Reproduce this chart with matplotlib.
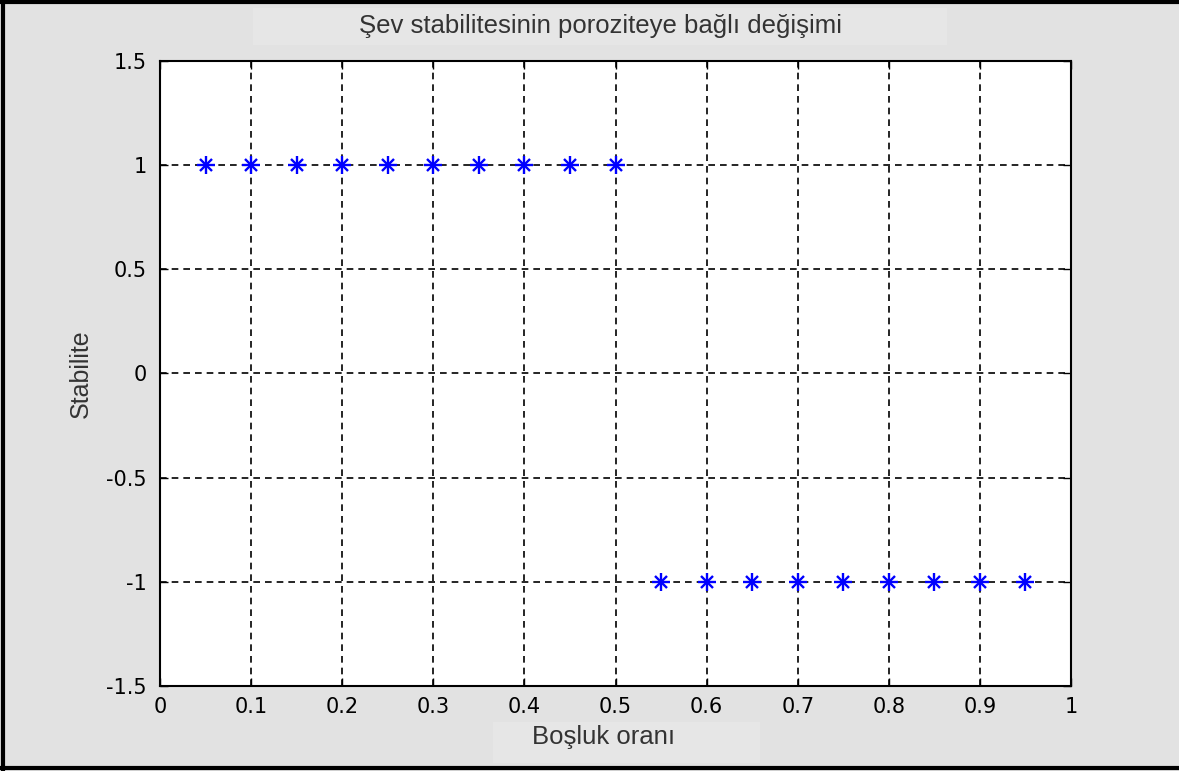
import numpy as np
import matplotlib.pyplot as plt
from matplotlib.patches import Rectangle

plt.rcParams['font.family'] = ['Liberation Sans', 'DejaVu Sans']

# veriler
bosluk = [0.05, 0.10, 0.15, 0.20, 0.25, 0.30, 0.35, 0.40, 0.45, 0.50,
          0.55, 0.60, 0.65, 0.70, 0.75, 0.80, 0.85, 0.90, 0.95]
stabilite = [1, 1, 1, 1, 1, 1, 1, 1, 1, 1,
             -1, -1, -1, -1, -1, -1, -1, -1, -1]
xticks = [0, 0.1, 0.2, 0.3, 0.4, 0.5, 0.6, 0.7, 0.8, 0.9, 1]
xlabels = ['0', '0.1', '0.2', '0.3', '0.4', '0.5', '0.6', '0.7', '0.8', '0.9', '1']
yticks = [-1.5, -1, -0.5, 0, 0.5, 1, 1.5]
ylabels = ['-1.5', '-1', '-0.5', '0', '0.5', '1', '1.5']

W, H = 1179, 771
bg = '#e2e2e2'
fig = plt.figure(figsize=(W / 100, H / 100), dpi=100, facecolor=bg)

# baslik ve eksen etiketi arkasindaki acik gri kutular
fig.add_artist(Rectangle((253 / W, 1 - 45 / H), 694 / W, 37 / H, transform=fig.transFigure,
                         facecolor='#e6e6e6', edgecolor='none', zorder=0))
fig.add_artist(Rectangle((493 / W, 1 - 763 / H), 267 / W, 41 / H, transform=fig.transFigure,
                         facecolor='#e6e6e6', edgecolor='none', zorder=0))

ax = fig.add_axes([160 / W, 1 - 686 / H, 911 / W, 625 / H])

# matlab'daki '*' isaretcisi: + ve x ust uste
ax.plot(bosluk, stabilite, linestyle='none', marker='+', color='#0000ff',
        markersize=12.5, markeredgewidth=1.7, zorder=3)
ax.plot(bosluk, stabilite, linestyle='none', marker='x', color='#0000ff',
        markersize=8.5, markeredgewidth=1.7, zorder=3)

ax.set_xlim(0, 1)
ax.set_ylim(-1.5, 1.5)
ax.set_xticks(xticks)
ax.set_xticklabels(xlabels, family='DejaVu Sans')
ax.set_yticks(yticks)
ax.set_yticklabels(ylabels, family='DejaVu Sans')
ax.tick_params(direction='in', length=6, width=1, top=True, right=True,
               labelsize=15, colors='black')
ax.tick_params(axis='x', pad=8)
ax.tick_params(axis='y', pad=9.5)
ax.grid(True, color='black', linestyle=(0, (4, 3)), linewidth=1.2)
for s in ax.spines.values():
    s.set_linewidth(1.5)

ax.set_title('Şev stabilitesinin poroziteye bağlı değişimi', fontsize=18.5,
             color='#333333', pad=20, x=0.483)
ax.set_xlabel('Boşluk oranı', fontsize=18.5, color='#333333')
ax.xaxis.set_label_coords((604 - 160) / 911, -(725 - 686) / 625)
ax.set_ylabel('Stabilite', fontsize=18, color='#333333')
ax.yaxis.set_label_coords(-(160 - 93) / 911, 0.5)

# dis cerceve
fig.add_artist(plt.Line2D([3 / W, 3 / W], [0, 1], color='black', lw=3,
                          transform=fig.transFigure))
fig.add_artist(plt.Line2D([0, 1], [1 - 2 / H, 1 - 2 / H], color='black', lw=3,
                          transform=fig.transFigure))
fig.add_artist(plt.Line2D([0, 1], [3 / H, 3 / H], color='black', lw=3,
                          transform=fig.transFigure))

fig.savefig('out.png', dpi=100, facecolor=bg)
